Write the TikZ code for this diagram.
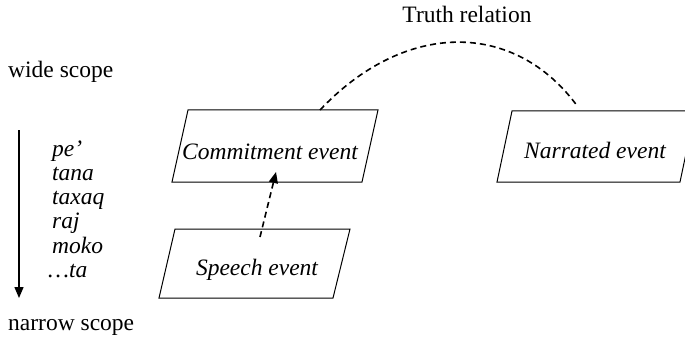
\documentclass[tikz,border=0pt]{standalone}
\usepackage{fontspec}
\setmainfont{Liberation Serif}
\usetikzlibrary{arrows.meta}
\begin{document}
\begin{tikzpicture}[x=1pt,y=1pt,
  lbl/.style={inner sep=0pt, font=\fontsize{23.5}{28}\selectfont},
  ilbl/.style={lbl, font=\fontsize{23.5}{28}\selectfont\itshape},
  pbox/.style={draw=black, line width=1pt, line join=miter},
  dashline/.style={line width=1.6pt, dash pattern=on 6pt off 4pt},
  tip/.style={-{Triangle[length=11pt,width=9pt]}}
]
\useasboundingbox (0,0) rectangle (685,346);
\clip (0,0) rectangle (685,346);
% parallelograms
\draw[pbox] (188,236) -- (378,236) -- (362,164) -- (172,164) -- cycle;
\draw[pbox] (175,117) -- (350,117) -- (333,48) -- (159,48) -- cycle;
\draw[pbox] (512,235) -- (695,235) -- (680,164) -- (497,164) -- cycle;
% box labels
\node[ilbl, anchor=base] (commit) at (270,186) {Commitment event};
\node[ilbl, anchor=base] (speech) at (257,71) {Speech event};
\node[ilbl, anchor=base] (narr) at (595,188) {Narrated event};
\node[lbl, anchor=base] (truth) at (467,323) {Truth relation};
% connector end points
\coordinate (commitTop) at (320,236);
\coordinate (narrTop) at (578,239);
\coordinate (speechTop) at (260,109);
\coordinate (commitBot) at (276,174);
\draw[dashline] (commitTop) .. controls (405,326) and (515,326) .. (narrTop);
\draw[dashline, tip] (speechTop) -- (commitBot);
% scope side
\node[lbl, anchor=base west] (wide) at (8,268) {wide scope};
\node[lbl, anchor=base west] (narrow) at (8,16) {narrow scope};
\coordinate (scTop) at (19,216);
\coordinate (scBot) at (19,48);
\draw[line width=1.5pt, tip] (scTop) -- (scBot);
\node[ilbl, anchor=base west] (m1) at (52,190) {pe’};
\node[ilbl, anchor=base west] (m2) at (52,166) {tana};
\node[ilbl, anchor=base west] (m3) at (52,142) {taxaq};
\node[ilbl, anchor=base west] (m4) at (52,118) {raj};
\node[ilbl, anchor=base west] (m5) at (52,93) {moko};
\node[ilbl, anchor=base west] (m6) at (48,69) {…ta};
\end{tikzpicture}
\end{document}
